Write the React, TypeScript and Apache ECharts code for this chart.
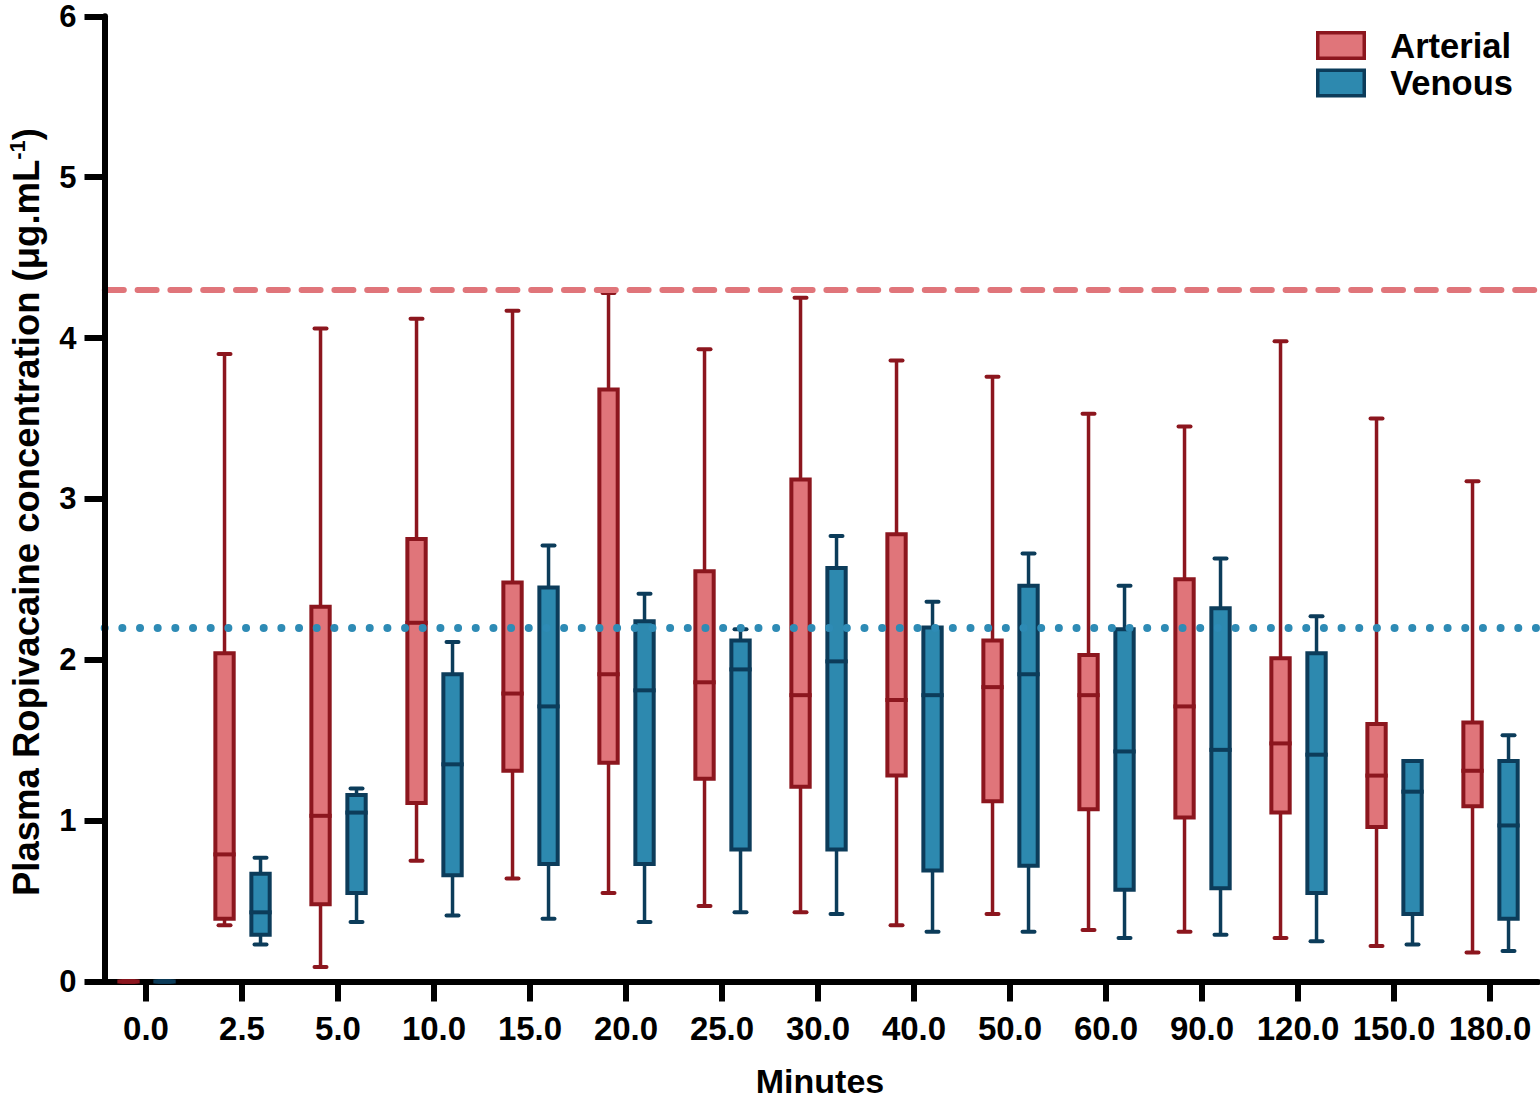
import React, { useEffect, useRef } from 'react';
import * as echarts from 'echarts';

// ---- Data ----
const categories = ['0.0', '2.5', '5.0', '10.0', '15.0', '20.0', '25.0', '30.0', '40.0', '50.0', '60.0', '90.0', '120.0', '150.0', '180.0'];

// [min, Q1, median, Q3, max]
const arterialBoxes = [
  [0, 0, 0, 0, 0],
  [0.35, 0.39, 0.79, 2.04, 3.9],
  [0.09, 0.48, 1.03, 2.33, 4.06],
  [0.75, 1.11, 2.23, 2.75, 4.12],
  [0.64, 1.31, 1.79, 2.48, 4.17],
  [0.55, 1.36, 1.91, 3.68, 4.28],
  [0.47, 1.26, 1.86, 2.55, 3.93],
  [0.43, 1.21, 1.78, 3.12, 4.25],
  [0.35, 1.28, 1.75, 2.78, 3.86],
  [0.42, 1.12, 1.83, 2.12, 3.76],
  [0.32, 1.07, 1.78, 2.03, 3.53],
  [0.31, 1.02, 1.71, 2.5, 3.45],
  [0.27, 1.05, 1.48, 2.01, 3.98],
  [0.22, 0.96, 1.28, 1.6, 3.5],
  [0.18, 1.09, 1.31, 1.61, 3.11],
];

const venousBoxes = [
  [0, 0, 0, 0, 0],
  [0.23, 0.29, 0.43, 0.67, 0.77],
  [0.37, 0.55, 1.05, 1.16, 1.2],
  [0.41, 0.66, 1.35, 1.91, 2.11],
  [0.39, 0.73, 1.71, 2.45, 2.71],
  [0.37, 0.73, 1.81, 2.24, 2.41],
  [0.43, 0.82, 1.94, 2.12, 2.19],
  [0.42, 0.82, 1.99, 2.57, 2.77],
  [0.31, 0.69, 1.78, 2.2, 2.36],
  [0.31, 0.72, 1.91, 2.46, 2.66],
  [0.27, 0.57, 1.43, 2.19, 2.46],
  [0.29, 0.58, 1.44, 2.32, 2.63],
  [0.25, 0.55, 1.41, 2.04, 2.27],
  [0.23, 0.42, 1.18, 1.37, 1.37],
  [0.19, 0.39, 0.97, 1.37, 1.53],
];

const seriesNames = ['Arterial', 'Venous'];
const arterialThreshold = 4.3;
const venousThreshold = 2.2;
const yMin = 0;
const yMax = 6;
const yInterval = 1;
const xTitle = 'Minutes';

// ---- Styles ----
const FONT = "'Liberation Sans', Arial, Helvetica, sans-serif";
const ART_FILL = '#E0757A';
const ART_STROKE = '#8C161E';
const VEN_FILL = '#2D89AF';
const VEN_STROKE = '#0C3C5A';

function makeRender(offsetFrac: number, fill: string, stroke: string) {
  return (params: any, api: any) => {
    const i = api.value(0);
    const bw = api.size([1, 0])[0];
    const cx = api.coord([i, 0])[0] + offsetFrac * bw;
    const pMin = api.coord([i, api.value(1)])[1];
    const pQ1 = api.coord([i, api.value(2)])[1];
    const pMed = api.coord([i, api.value(3)])[1];
    const pQ3 = api.coord([i, api.value(4)])[1];
    const pMax = api.coord([i, api.value(5)])[1];
    const half = bw * 0.0955;
    const cap = bw * 0.0625;
    return {
      type: 'group',
      children: [
        { type: 'line', shape: { x1: cx, y1: pQ3, x2: cx, y2: pMax }, style: { stroke, lineWidth: 3.5 } },
        { type: 'line', shape: { x1: cx, y1: pQ1, x2: cx, y2: pMin }, style: { stroke, lineWidth: 3.5 } },
        { type: 'line', shape: { x1: cx - cap, y1: pMax, x2: cx + cap, y2: pMax }, style: { stroke, lineWidth: 4, lineCap: 'round' } },
        { type: 'line', shape: { x1: cx - cap, y1: pMin, x2: cx + cap, y2: pMin }, style: { stroke, lineWidth: 4, lineCap: 'round' } },
        { type: 'rect', shape: { x: cx - half, y: pQ3, width: 2 * half, height: pQ1 - pQ3 }, style: { fill, stroke, lineWidth: 4 } },
        { type: 'line', shape: { x1: cx - half, y1: pMed, x2: cx + half, y2: pMed }, style: { stroke, lineWidth: 4, lineCap: 'square' } },
      ],
    };
  };
}

export default function App() {
  const ref = useRef<HTMLDivElement>(null);

  useEffect(() => {
    if (!ref.current) return;
    const chart = echarts.init(ref.current, undefined, { renderer: 'svg' });
    const artData = arterialBoxes.map((b, i) => [i, ...b]);
    const venData = venousBoxes.map((b, i) => [i, ...b]);

    chart.setOption({
      animation: false,
      backgroundColor: '#ffffff',
      textStyle: { fontFamily: FONT },
      grid: { left: 98, right: 2, top: 16.3, bottom: 117.5, containLabel: false },
      legend: {
        orient: 'vertical',
        left: 1316,
        top: 28,
        padding: 0,
        itemWidth: 46.5,
        itemHeight: 25.5,
        itemGap: 2.6,
        selectedMode: false,
        data: [
          { name: seriesNames[0], icon: 'rect', itemStyle: { color: ART_FILL, borderColor: ART_STROKE, borderWidth: 3.5 } },
          { name: seriesNames[1], icon: 'rect', itemStyle: { color: VEN_FILL, borderColor: VEN_STROKE, borderWidth: 3.5 } },
        ],
        textStyle: { fontFamily: FONT, fontSize: 34.5, fontWeight: 'bold', color: '#000', padding: [0, 0, 0, 21] },
      },
      xAxis: {
        type: 'category',
        data: categories,
        boundaryGap: true,
        axisLine: { show: true, lineStyle: { color: '#000', width: 6 } },
        axisTick: { show: true, alignWithLabel: true, length: 20, lineStyle: { color: '#000', width: 6 } },
        axisLabel: { fontFamily: FONT, fontSize: 33, fontWeight: 'bold', color: '#000', margin: 30, interval: 0 },
        splitLine: { show: false },
      },
      yAxis: {
        type: 'value',
        min: yMin,
        max: yMax,
        interval: yInterval,
        offset: -6.5,
        z: 10,
        axisLine: { show: true, lineStyle: { color: '#000', width: 6 } },
        axisTick: { show: true, length: 20, lineStyle: { color: '#000', width: 6 } },
        axisLabel: { fontFamily: FONT, fontSize: 31, lineHeight: 30, fontWeight: 'bold', color: '#000', margin: 28 },
        splitLine: { show: false },
      },
      graphic: [
        {
          type: 'text',
          x: 26,
          y: 512,
          rotation: Math.PI / 2,
          style: {
            text: '{a|Plasma Ropivacaine concentration (μg.mL}{s|-1}{a|)}',
            align: 'center',
            verticalAlign: 'middle',
            fill: '#000',
            rich: {
              a: { fontFamily: FONT, fontSize: 36.5, fontWeight: 'bold', fill: '#000', lineHeight: 40 },
              s: { fontFamily: FONT, fontSize: 22, fontWeight: 'bold', fill: '#000', verticalAlign: 'top', lineHeight: 24 },
            },
          },
        },
        {
          type: 'text',
          x: 820,
          y: 1081,
          style: {
            text: xTitle,
            align: 'center',
            verticalAlign: 'middle',
            fill: '#000',
            fontFamily: FONT,
            fontSize: 34,
            fontWeight: 'bold',
          },
        },
      ],
      series: [
        {
          name: seriesNames[0],
          type: 'custom',
          renderItem: makeRender(-0.182, ART_FILL, ART_STROKE),
          encode: { x: 0, y: [1, 2, 3, 4, 5] },
          itemStyle: { color: ART_FILL, borderColor: ART_STROKE },
          data: artData,
          z: 3,
          markLine: {
            silent: true,
            symbol: ['none', 'none'],
            label: { show: false },
            z: 5,
            data: [{ yAxis: arterialThreshold }],
            lineStyle: { color: ART_FILL, width: 6, type: [19, 13.8], cap: 'round', dashOffset: 25.6 },
          },
        },
        {
          name: seriesNames[1],
          type: 'custom',
          renderItem: makeRender(0.193, VEN_FILL, VEN_STROKE),
          encode: { x: 0, y: [1, 2, 3, 4, 5] },
          itemStyle: { color: VEN_FILL, borderColor: VEN_STROKE },
          data: venData,
          z: 3,
          markLine: {
            silent: true,
            symbol: ['none', 'none'],
            label: { show: false },
            z: 5,
            data: [{ yAxis: venousThreshold }],
            lineStyle: { color: '#2E8BB5', width: 8, type: [0.01, 17.66], cap: 'round', dashOffset: 11 },
          },
        },
      ],
    });

    return () => chart.dispose();
  }, []);

  return <div ref={ref} style={{ position: 'fixed', left: 0, top: 0, width: 1540, height: 1099 }} />;
}
